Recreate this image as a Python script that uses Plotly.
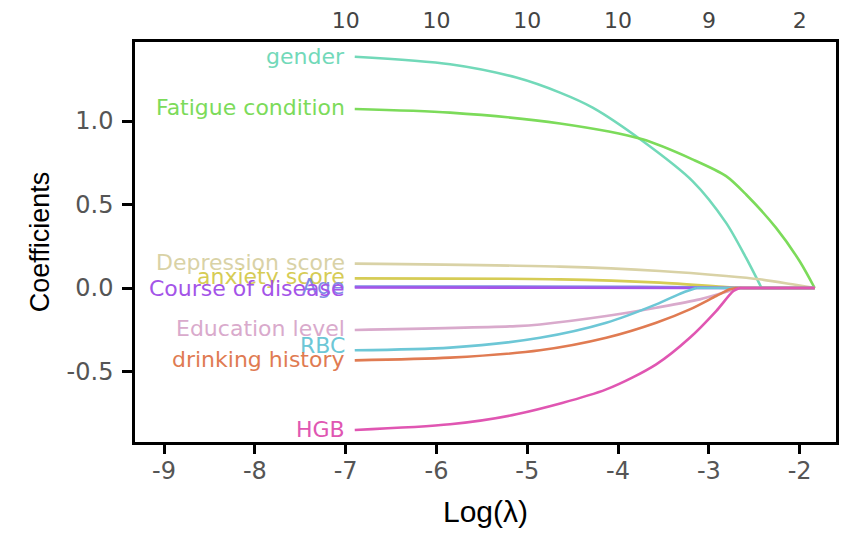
import plotly.graph_objects as go

# lasso coefficient paths (log lambda, coefficient)
end_x = -1.835

gender_x = [-6.9, -5.85, -5.12, -4.64, -4.28, -3.73, -3.18, -2.81, -2.59, -2.42]
gender_y = [1.385, 1.34, 1.26, 1.17, 1.08, 0.88, 0.64, 0.39, 0.18, 0.0]

fatigue_x = [-6.9, -5.85, -4.64, -3.73, -3.18, -2.81, -2.59, -2.26, -2.0, end_x]
fatigue_y = [1.072, 1.05, 0.985, 0.89, 0.77, 0.67, 0.56, 0.36, 0.16, 0.0]

depression_x = [-6.9, -4.64, -3.54, -2.81, -2.44, -2.08, end_x]
depression_y = [0.146, 0.128, 0.102, 0.072, 0.052, 0.022, 0.0]

anxiety_x = [-6.9, -4.64, -3.54, -2.81, -2.6]
anxiety_y = [0.058, 0.052, 0.032, 0.006, 0.0]

age_x = [-6.9, -4.0, -3.2, -2.75]
age_y = [0.009, 0.008, 0.005, 0.0]

course_x = [-6.9, -4.5, -3.18]
course_y = [0.003, 0.002, 0.0]

education_x = [-6.9, -5.12, -4.86, -4.13, -3.58, -3.1, -2.74, -2.66]
education_y = [-0.251, -0.228, -0.218, -0.168, -0.118, -0.068, -0.012, 0.0]

rbc_x = [-6.9, -5.85, -4.86, -4.13, -3.58, -3.29, -3.14]
rbc_y = [-0.373, -0.357, -0.298, -0.208, -0.098, -0.028, 0.0]

drinking_x = [-6.9, -5.85, -4.86, -4.13, -3.58, -3.21, -2.92, -2.77, -2.7]
drinking_y = [-0.433, -0.417, -0.373, -0.298, -0.208, -0.128, -0.048, -0.008, 0.0]

hgb_x = [-6.9, -5.85, -5.12, -4.13, -3.58, -3.21, -2.92, -2.73, -2.66]
hgb_y = [-0.85, -0.816, -0.756, -0.607, -0.457, -0.298, -0.138, -0.018, 0.0]

names = ["gender", "Fatigue condition", "Depression score", "anxiety score", "Age",
         "Course of disease", "Education level", "RBC", "drinking history", "HGB"]
paths_x = [gender_x, fatigue_x, depression_x, anxiety_x, age_x,
           course_x, education_x, rbc_x, drinking_x, hgb_x]
paths_y = [gender_y, fatigue_y, depression_y, anxiety_y, age_y,
           course_y, education_y, rbc_y, drinking_y, hgb_y]
colors = ["#72D9B9", "#7CDB5A", "#D9D2A6", "#D6CC55", "#7F8BE6",
          "#A454E8", "#D9AACC", "#6DC7D6", "#E07B52", "#E056B2"]
label_y = [1.385, 1.078, 0.15, 0.07, 0.01, 0.0, -0.24, -0.345, -0.43, -0.845]

# number of nonzero coefficients along the top
top_ticks = [-7, -6, -5, -4, -3, -2]
top_counts = ["10", "10", "10", "10", "9", "2"]
bottom_ticks = [-9, -8, -7, -6, -5, -4, -3, -2]

fig = go.Figure()
for nm, xs, ys, c in zip(names, paths_x, paths_y, colors):
    fig.add_trace(go.Scatter(x=xs, y=ys, mode="lines", name=nm,
                             line=dict(color=c, width=2.6, shape="spline", smoothing=0.8)))
    # path stays at zero once the variable drops out
    if xs[-1] < end_x:
        fig.add_trace(go.Scatter(x=[xs[-1], end_x], y=[0, 0], mode="lines", name=nm,
                                 line=dict(color=c, width=2.6)))

# dummy trace so the top axis shows
fig.add_trace(go.Scatter(x=[-9.32, -1.6], y=[0, 0], xaxis="x2", mode="lines",
                         line=dict(width=0), hoverinfo="skip", showlegend=False))

for nm, ly, c in zip(names, label_y, colors):
    fig.add_annotation(x=-6.99, y=ly, text=nm, showarrow=False, xanchor="right",
                       font=dict(family="DejaVu Sans", size=22, color=c))

tick_font = dict(family="DejaVu Sans", size=24, color="#555555")
# page body has an 8px margin, so the figure is a bit smaller than the window
fig.update_layout(
    width=835, height=520,
    margin=dict(l=127, r=7, t=34, b=86),
    plot_bgcolor="white", paper_bgcolor="white",
    showlegend=False,
    font=dict(family="Liberation Sans, Arial"),
    xaxis=dict(range=[-9.32, -1.6], tickvals=bottom_ticks,
               ticktext=[str(t) for t in bottom_ticks],
               ticks="outside", ticklen=9, tickwidth=2.5, tickcolor="black",
               ticklabelstandoff=-4,
               showline=True, linecolor="black", linewidth=2.5, mirror=True,
               showgrid=False, zeroline=False, tickfont=tick_font, automargin=False,
               title=dict(text="Log(λ)", font=dict(size=30, color="black"), standoff=18)),
    xaxis2=dict(overlaying="x", side="top", matches="x", tickvals=top_ticks,
                ticktext=top_counts, ticks="outside", ticklen=4,
                tickcolor="rgba(0,0,0,0)", showline=False, showgrid=False,
                zeroline=False, automargin=False,
                tickfont=dict(family="DejaVu Sans", size=22, color="#444444")),
    yaxis=dict(range=[-0.922, 1.473], tickvals=[-0.5, 0.0, 0.5, 1.0],
               ticktext=["-0.5", "0.0", "0.5", "1.0"],
               ticks="outside", ticklen=10, tickwidth=2.5, tickcolor="black",
               ticklabelstandoff=4,
               showline=True, linecolor="black", linewidth=2.5, mirror=True,
               showgrid=False, zeroline=False, tickfont=tick_font, automargin=False,
               title=dict(text="Coefficients", font=dict(size=27, color="black"), standoff=10)),
)

fig.write_html("out.html")
